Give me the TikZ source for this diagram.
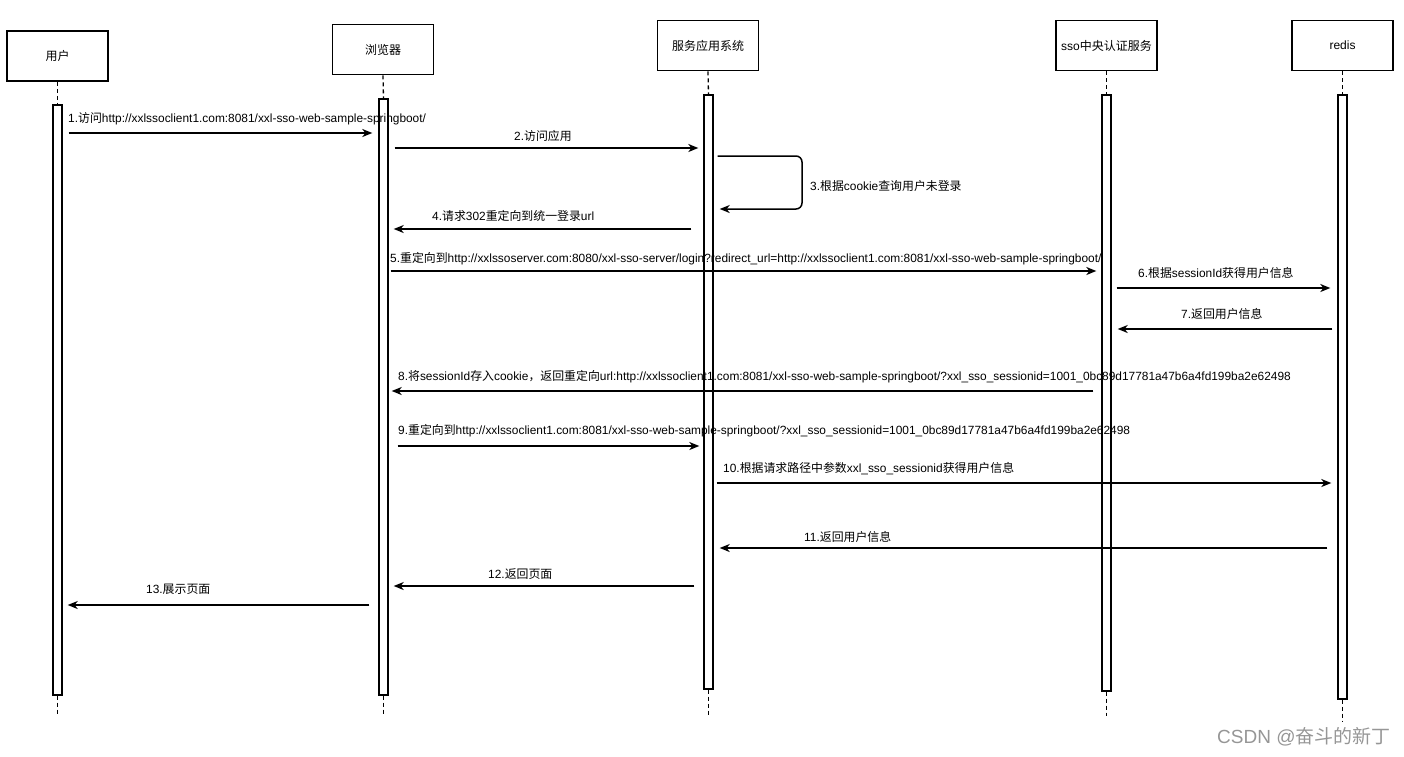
\documentclass[tikz,border=0pt]{standalone}
\usepackage{fontspec}
\setmainfont{Liberation Sans}
\newfontfamily\cjk{Noto Sans CJK SC}
\newcommand{\zh}[1]{{\cjk #1}}
\usetikzlibrary{arrows.meta}
\definecolor{wmgray}{RGB}{150,150,150}
\begin{document}
\begin{tikzpicture}[x=1pt,y=-1pt,
  actor/.style={draw, line width=1.6pt, minimum width=101pt, minimum height=50pt, inner sep=0pt, font=\fontsize{12}{14}\selectfont},
  bar/.style={draw, fill=white, line width=1.4pt, minimum width=9pt, inner sep=0pt},
  life/.style={line width=1.3pt, dash pattern=on 4pt off 3pt},
  msg/.style={line width=1.5pt, -{Stealth[length=10pt,width=8pt,inset=3pt]}},
  lbl/.style={inner sep=0pt, anchor=west, font=\fontsize{11.9}{14}\selectfont}]
\useasboundingbox (0,0) rectangle (1404,756);
% actors
\node[actor] (h1) at (57.5,56) {\zh{用户}};
\node[actor] (h2) at (383,49.5) {\zh{浏览器}};
\node[actor] (h3) at (708,45.5) {\zh{服务应用系统}};
\node[actor] (h4) at (1106.5,45.5) {sso\zh{中央认证服务}};
\node[actor] (h5) at (1342.5,45.5) {redis};
% lifeline ends
\coordinate (e1) at (57.5,716);
\coordinate (e2) at (383.5,716);
\coordinate (e3) at (708.5,716);
\coordinate (e4) at (1106.5,716);
\coordinate (e5) at (1342.5,722);
% activation bars
\node[bar, minimum height=590pt] (b1) at (57.5,400) {};
\node[bar, minimum height=596pt] (b2) at (383.5,397) {};
\node[bar, minimum height=594pt] (b3) at (708.5,392) {};
\node[bar, minimum height=596pt] (b4) at (1106.5,393) {};
\node[bar, minimum height=604pt] (b5) at (1342.5,397) {};
\draw[life] (h1.south) -- (b1.north);
\draw[life] (h2.south) -- (b2.north);
\draw[life] (h3.south) -- (b3.north);
\draw[life] (h4.south) -- (b4.north);
\draw[life] (h5.south) -- (b5.north);
\draw[life] (b1.south) -- (e1);
\draw[life] (b2.south) -- (e2);
\draw[life] (b3.south) -- (e3);
\draw[life] (b4.south) -- (e4);
\draw[life] (b5.south) -- (e5);
% messages
\draw[msg] ([xshift=6pt]b1.east |- 0,133) -- ([xshift=-6pt]b2.west |- 0,133);
\node[lbl] (l1) at (68,119) {1.\zh{访问}http://xxlssoclient1.com:8081/xxl-sso-web-sample-springboot/};
\draw[msg] ([xshift=6pt]b2.east |- 0,148) -- ([xshift=-5pt]b3.west |- 0,148);
\node[lbl] (l2) at (514,136) {2.\zh{访问应用}};
\draw[msg, rounded corners=6pt] ([xshift=4pt]b3.east |- 0,156) -- (802,156) -- (802,209) -- ([xshift=6pt]b3.east |- 0,209);
\node[lbl] (l3) at (810,186) {3.\zh{根据}cookie\zh{查询用户未登录}};
\draw[msg] ([xshift=-12pt]b3.west |- 0,229) -- ([xshift=5pt]b2.east |- 0,229);
\node[lbl] (l4) at (432,216) {4.\zh{请求}302\zh{重定向到统一登录}url};
\draw[msg] ([xshift=2pt]b2.east |- 0,271) -- ([xshift=-5pt]b4.west |- 0,271);
\node[lbl] (l5) at (390,259) {5.\zh{重定向到}http://xxlssoserver.com:8080/xxl-sso-server/login?redirect\_url=http://xxlssoclient1.com:8081/xxl-sso-web-sample-springboot/};
\draw[msg] ([xshift=5pt]b4.east |- 0,288) -- ([xshift=-7pt]b5.west |- 0,288);
\node[lbl] (l6) at (1138,273) {6.\zh{根据}sessionId\zh{获得用户信息}};
\draw[msg] ([xshift=-5pt]b5.west |- 0,329) -- ([xshift=6pt]b4.east |- 0,329);
\node[lbl] (l7) at (1181,314) {7.\zh{返回用户信息}};
\draw[msg] ([xshift=-8pt]b4.west |- 0,391) -- ([xshift=3pt]b2.east |- 0,391);
\node[lbl] (l8) at (398,377) {8.\zh{将}sessionId\zh{存入}cookie\zh{，返回重定向}url:http://xxlssoclient1.com:8081/xxl-sso-web-sample-springboot/?xxl\_sso\_sessionid=1001\_0bc89d17781a47b6a4fd199ba2e62498};
\draw[msg] ([xshift=9pt]b2.east |- 0,446) -- ([xshift=-4pt]b3.west |- 0,446);
\node[lbl] (l9) at (398,431) {9.\zh{重定向到}http://xxlssoclient1.com:8081/xxl-sso-web-sample-springboot/?xxl\_sso\_sessionid=1001\_0bc89d17781a47b6a4fd199ba2e62498};
\draw[msg] ([xshift=3pt]b3.east |- 0,483) -- ([xshift=-6pt]b5.west |- 0,483);
\node[lbl] (l10) at (723,469) {10.\zh{根据请求路径中参数}xxl\_sso\_sessionid\zh{获得用户信息}};
\draw[msg] ([xshift=-10pt]b5.west |- 0,548) -- ([xshift=6pt]b3.east |- 0,548);
\node[lbl] (l11) at (804,537) {11.\zh{返回用户信息}};
\draw[msg] ([xshift=-9pt]b3.west |- 0,586) -- ([xshift=5pt]b2.east |- 0,586);
\node[lbl] (l12) at (488,574) {12.\zh{返回页面}};
\draw[msg] ([xshift=-9pt]b2.west |- 0,605) -- ([xshift=5pt]b1.east |- 0,605);
\node[lbl] (l13) at (146,589) {13.\zh{展示页面}};
% watermark
\node[inner sep=0pt, anchor=west, text=wmgray, font=\fontsize{19}{21}\selectfont] (wm) at (1217,737) {CSDN @\zh{奋斗的新丁}};
\end{tikzpicture}
\end{document}
